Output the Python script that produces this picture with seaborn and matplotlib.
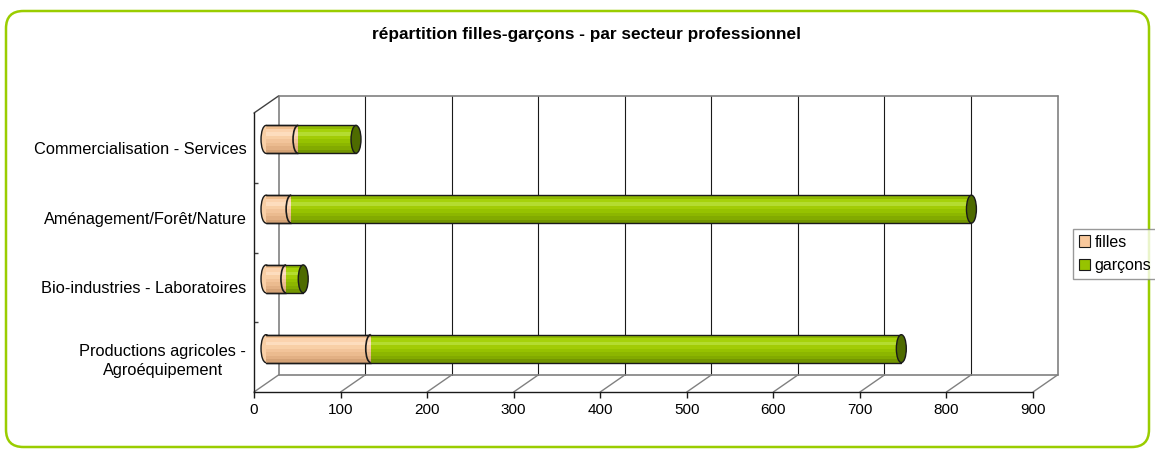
import matplotlib
matplotlib.use('Agg')
import matplotlib.pyplot as plt
import seaborn as sns
import pandas as pd
from matplotlib.patches import Ellipse, Arc, Rectangle, Patch, FancyBboxPatch, ConnectionPatch
from matplotlib.transforms import ScaledTranslation, blended_transform_factory

sns.set_theme(style='white')
plt.rcParams['font.family'] = ['Liberation Sans', 'DejaVu Sans']
plt.rcParams['text.color'] = 'black'
plt.rcParams['xtick.color'] = 'black'
plt.rcParams['ytick.color'] = 'black'

# données
secteurs = ["Commercialisation - Services", "Aménagement/Forêt/Nature",
            "Bio-industries - Laboratoires", "Productions agricoles -\nAgroéquipement"]
filles = [37, 29, 23, 121]
garcons = [67, 786, 20, 613]
graduations = [0, 100, 200, 300, 400, 500, 600, 700, 800, 900]

titre = "répartition filles-garçons - par secteur professionnel"
couleur_filles = "#F8C89C"
couleur_garcons = "#97C300"

df = pd.DataFrame({"secteur": secteurs, "filles": filles, "garcons": garcons})
df["total"] = df["filles"] + df["garcons"]

W, H = 1155, 450
fig = plt.figure(figsize=(W / 100, H / 100), dpi=100)
ax = fig.add_axes([254 / W, 1 - 392 / H, 779 / W, 279 / H])

# décalages pour imiter la profondeur 3D d'Excel
prof = ScaledTranslation(24.5 / 100, 17 / 100, fig.dpi_scale_trans)
milieu = ScaledTranslation(12 / 100, 8.5 / 100, fig.dpi_scale_trans)
blend = blended_transform_factory(ax.transData, ax.transAxes)

sns.barplot(data=df, x="total", y="secteur", color=couleur_garcons, width=0.4,
            orient="h", ax=ax, edgecolor="none")
sns.barplot(data=df, x="filles", y="secteur", color=couleur_filles, width=0.4,
            orient="h", ax=ax, edgecolor="none")

degrade_g = ['#8FB800', '#A6D20A', '#B4DC30', '#A2CC05', '#96C200', '#8CB600', '#82AA00', '#739600']
degrade_f = ['#F0BE8E', '#FBD3AE', '#FDDDBE', '#F8CFA6', '#F2C49A', '#EBBB8F', '#E2B084', '#D4A276']

n = len(df)
tr_bar = ax.transData + milieu
cap_w = 11.5
trait = "#1a1a1a"
for i, p in enumerate(ax.patches[:2 * n]):
    vert = i < n
    grad = degrade_g if vert else degrade_f
    x0, y0, w, h = p.get_x(), p.get_y(), p.get_width(), p.get_height()
    yc = y0 + h / 2
    p.set_visible(False)
    if not vert:
        ax.add_patch(Ellipse((x0, yc), cap_w, h, facecolor=grad[3], edgecolor=trait,
                             lw=1, transform=tr_bar, zorder=1.5, clip_on=False))
    for k, c in enumerate(grad):
        ax.add_patch(Rectangle((x0, y0 + k * h / len(grad)), w, h / len(grad), facecolor=c,
                               edgecolor='none', transform=tr_bar,
                               zorder=2 if vert else 3, clip_on=False))
    ax.plot([x0, x0 + w], [y0, y0], color=trait, lw=1, transform=tr_bar, zorder=4, clip_on=False)
    ax.plot([x0, x0 + w], [y0 + h, y0 + h], color=trait, lw=1, transform=tr_bar, zorder=4,
            clip_on=False)
    if vert:
        ax.add_patch(Ellipse((x0 + w, yc), cap_w, h, facecolor="#4E6B00", edgecolor=trait,
                             lw=1, transform=tr_bar, zorder=5, clip_on=False))
    else:
        ax.add_patch(Arc((x0 + w, yc), cap_w, h, theta1=90, theta2=270, color=trait,
                         lw=1.2, transform=tr_bar, zorder=5, clip_on=False))

# mur du fond, quadrillage et sol
for v in graduations:
    bord = v in (graduations[0], graduations[-1])
    ax.plot([v, v], [0, 1], transform=blend + prof, color="#808080" if bord else trait,
            lw=1.2 if bord else 0.8, zorder=0.5, clip_on=False)
    ax.add_artist(ConnectionPatch((v, 0), (v, 0), coordsA=blend, coordsB=blend + prof,
                                  color="#808080", lw=1, zorder=0.5))
ax.plot([0, 1], [1, 1], transform=ax.transAxes + prof, color="#808080", lw=1.2, clip_on=False)
ax.plot([0, 1], [0, 0], transform=ax.transAxes + prof, color="#808080", lw=1.2, clip_on=False)
ax.add_artist(ConnectionPatch((0, 1), (0, 1), coordsA=ax.transAxes,
                              coordsB=ax.transAxes + prof, color="#404040", lw=1))

ax.set_xlim(graduations[0], graduations[-1])
ax.set_ylim(n - 0.5, -0.5)
ax.set_xticks(graduations)
ax.set_xlabel("")
ax.set_ylabel("")
for s in ("top", "right"):
    ax.spines[s].set_visible(False)
for s in ("left", "bottom"):
    ax.spines[s].set_color(trait)
    ax.spines[s].set_linewidth(1)
ax.tick_params(axis='x', length=4, width=1, color=trait, pad=4, labelsize=11, bottom=True)
ax.tick_params(axis='y', length=0, pad=5.5, labelsize=11.8)
ax.set_yticks([i + 0.5 for i in range(n - 1)], minor=True)
ax.tick_params(axis='y', which='minor', length=3, direction='in', left=True, color="#404040")
for lab in ax.get_yticklabels():
    lab.set_horizontalalignment('right')
    lab.set_multialignment('center')
    lab.set_linespacing(1.4)
ax.patch.set_alpha(0)

fig.text(587 / W, 1 - 35 / H, titre, ha='center', va='center', fontsize=12.4, fontweight='bold')

poignees = [Patch(facecolor=couleur_filles, edgecolor=trait, lw=0.8, label="filles"),
            Patch(facecolor=couleur_garcons, edgecolor=trait, lw=0.8, label="garçons")]
fig.legend(handles=poignees, loc='upper left', bbox_to_anchor=(1073 / W, 1 - 229 / H),
           fontsize=11.5, frameon=True, fancybox=False, edgecolor="#808080",
           handlelength=0.7, handleheight=0.7, handletextpad=0.3, labelspacing=0.55,
           borderpad=0.35, borderaxespad=0)

fig.patches.append(FancyBboxPatch((6 / W, 3 / H), 1143 / W, 436 / H,
                                  boxstyle="round,pad=0,rounding_size=0.015",
                                  transform=fig.transFigure, fill=False,
                                  edgecolor="#9ACD00", lw=1.8, mutation_aspect=W / H))

fig.savefig("out.png", dpi=100)
